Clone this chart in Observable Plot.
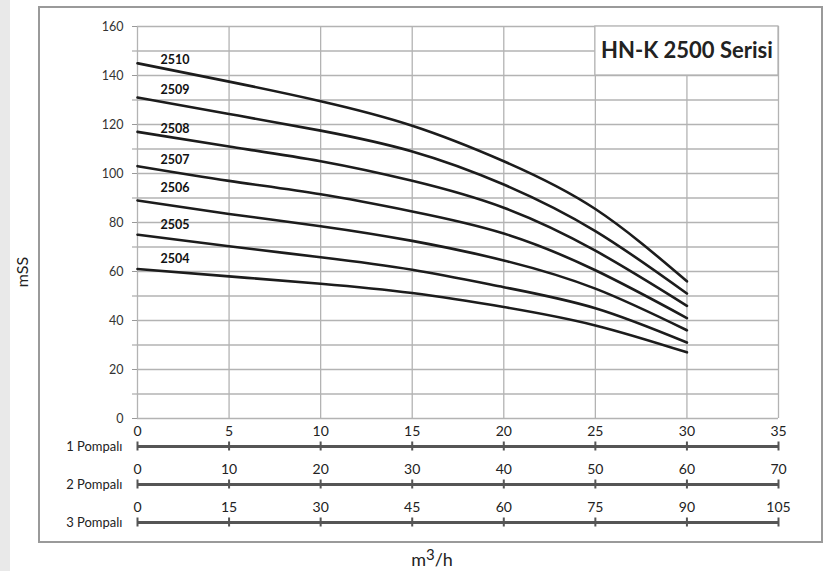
<!DOCTYPE html>
<html>
<head>
<meta charset="utf-8">
<script src="https://cdn.jsdelivr.net/npm/d3@7"></script>
<script src="https://cdn.jsdelivr.net/npm/@observablehq/plot@0.6"></script>
<style>
  html, body { margin: 0; padding: 0; background: #fff; }
  #wrap { position: relative; width: 826px; height: 571px; overflow: hidden; font-family: Lato, sans-serif; background: #fff; }
  #strip { position: absolute; left: 0; top: 0; width: 10px; height: 571px; background: #e9e9e9; }
  #frame { position: absolute; left: 38px; top: 6px; width: 781px; height: 533px; border: 2.5px solid #9a9a9a; }
  .abs { position: absolute; left: 0; }
  #ylab { position: absolute; left: 21px; top: 272px; transform: translate(-50%, -50%) rotate(-90deg); font-size: 16px; color: #222; white-space: nowrap; }
  #xlab { position: absolute; left: 432px; top: 559px; transform: translate(-50%, -50%); font-size: 18px; color: #222; white-space: nowrap; }
  #xlab sup { font-size: 15px; vertical-align: 0; position: relative; top: -6px; }
</style>
</head>
<body>
<div id="wrap">
  <div id="strip"></div>
  <div id="frame"></div>
  <div id="main" class="abs" style="top:0"></div>
  <div id="pumps" class="abs" style="top:418px"></div>
  <div id="ylab">mSS</div>
  <div id="xlab">m<sup>3</sup>/h</div>
</div>
<script>
// ---- data ----
const flow = [0, 5, 10, 15, 20, 25, 30];            // m3/h (1 pump)
const models = ["2510", "2509", "2508", "2507", "2506", "2505", "2504"];
const h2510 = [145, 137.5, 129.5, 119.5, 105, 85.5, 56];
const h2509 = [131, 124.3, 117.5, 109, 95.5, 76.5, 51];
const h2508 = [117, 111, 105, 97, 86, 68.5, 46];
const h2507 = [103, 97, 91.5, 84.5, 75.5, 60.5, 41];
const h2506 = [89, 83.5, 78.5, 72.5, 64.5, 53, 36];
const h2505 = [75, 70.3, 65.8, 60.7, 53.6, 45, 31];
const h2504 = [61, 58, 55, 51.2, 45.5, 38, 27];
const heads = [h2510, h2509, h2508, h2507, h2506, h2505, h2504];
const labelY = [146.4, 134.2, 118.2, 105.7, 94.2, 78.8, 65.2];
const labelX = 1.25;

const yGrid = [0, 10, 20, 30, 40, 50, 60, 70, 80, 90, 100, 110, 120, 130, 140, 150, 160];
const yTickLabels = [0, 20, 40, 60, 80, 100, 120, 140, 160];
const xTicks = [0, 5, 10, 15, 20, 25, 30, 35];
const pumps = ["1 Pompalı", "2 Pompalı", "3 Pompalı"];
const pump1Ticks = [0, 5, 10, 15, 20, 25, 30, 35];
const pump2Ticks = [0, 10, 20, 30, 40, 50, 60, 70];
const pump3Ticks = [0, 15, 30, 45, 60, 75, 90, 105];
const pumpTicks = [pump1Ticks, pump2Ticks, pump3Ticks];
const title = "HN-K 2500 Serisi";
const titleBox = {x1: 25, x2: 35, y1: 140, y2: 160};

// ---- tables ----
const curves = models.flatMap((m, i) => flow.map((q, j) => ({model: m, q, h: heads[i][j]})));
const labels = models.map((m, i) => ({model: m, x: labelX, y: labelY[i]}));
const tickRows = pumps.flatMap((p, i) => xTicks.map((t, j) => ({row: p, t, label: pumpTicks[i][j]})));

const gridColor = "#b3b3b3";

const main = Plot.plot({
  width: 826,
  height: 440,
  marginLeft: 137,
  marginRight: 48,
  marginTop: 26,
  marginBottom: 22,
  style: {background: "transparent", fontFamily: "Lato, sans-serif", overflow: "visible"},
  x: {domain: [0, 35], axis: null},
  y: {domain: [0, 160]},
  marks: [
    Plot.gridY(yGrid, {stroke: gridColor, strokeOpacity: 1, strokeWidth: 1.3}),
    Plot.gridX(xTicks, {stroke: gridColor, strokeOpacity: 1, strokeWidth: 1.3}),
    Plot.axisY(yGrid, {
      tickFormat: d => yTickLabels.includes(d) ? String(d) : "",
      tickSize: 5, tickPadding: 9, stroke: "#999", fill: "#333", fontSize: 12.5, label: null
    }),
    Plot.rect([titleBox], {x1: "x1", x2: "x2", y1: "y1", y2: "y2", fill: "#fff", stroke: gridColor, strokeWidth: 1.3}),
    Plot.text([title], {x: (titleBox.x1 + titleBox.x2) / 2, y: (titleBox.y1 + titleBox.y2) / 2, text: d => d,
      fontSize: 22, fontWeight: "bold", fill: "#222"}),
    Plot.line(curves, {x: "q", y: "h", z: "model", curve: "natural", stroke: "#1c1c1c", strokeWidth: 2.6}),
    Plot.text(labels, {x: "x", y: "y", text: "model", textAnchor: "start", fontSize: 12.5, fontWeight: "bold", fill: "#111"})
  ]
});
document.getElementById("main").appendChild(main);

const pumpAxes = Plot.plot({
  width: 826,
  height: 117,
  marginLeft: 137,
  marginRight: 48,
  marginTop: 0,
  marginBottom: 0,
  style: {background: "transparent", fontFamily: "Lato, sans-serif", overflow: "visible"},
  x: {domain: [0, 35], axis: null},
  y: {type: "point", domain: pumps, range: [27.7, 105.3], padding: 0, axis: null},
  marks: [
    Plot.ruleY(pumps, {y: d => d, x1: 0, x2: 35, stroke: "#555", strokeWidth: 3}),
    Plot.ruleX(tickRows, {x: "t", y1: "row", y2: "row", insetTop: -4.5, insetBottom: -4.5, stroke: "#555", strokeWidth: 2}),
    Plot.text(tickRows, {x: "t", y: "row", text: "label", dy: -15, fontSize: 14, fill: "#222"}),
    Plot.text(pumps, {x: 0, y: d => d, text: d => d, textAnchor: "end", dx: -15, fontSize: 13, fill: "#222"})
  ]
});
document.getElementById("pumps").appendChild(pumpAxes);
</script>
</body>
</html>
